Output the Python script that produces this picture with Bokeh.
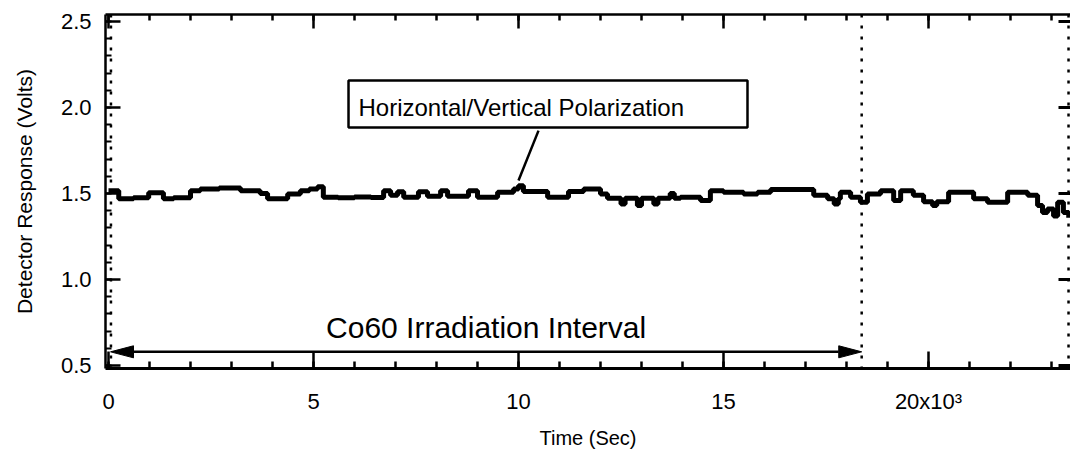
from bokeh.plotting import figure
from bokeh.models import Range1d, LinearAxis, FixedTicker, Span, Label, BoxAnnotation
from bokeh.embed import file_html
from bokeh.resources import INLINE

# ---------------- data ----------------
time_s = [
    0, 250, 610, 980, 1340, 1590, 2000, 2240, 2700, 3220,
    3700, 3880, 4370, 4680, 4900, 5100, 5240, 5600, 6000, 6400,
    6710, 6880, 7050, 7200, 7560, 7780, 8100, 8270, 8780, 9000,
    9490, 9880, 10000, 10120, 10710, 11220, 11590, 12000, 12170, 12500,
    12600, 12900, 13000, 13300, 13400, 13700, 13800, 13950, 14440, 14680,
    15000, 15490, 15830, 16150, 17200, 17540, 17700, 17800, 17850, 18100,
    18340, 18510, 18830, 19150, 19320, 19630, 19880, 20100, 20200, 20490,
    21100, 21440, 21930, 22420, 22660, 22780, 22900, 23050, 23150, 23290,
    23420,
]
volts = [
    1.517, 1.470, 1.475, 1.505, 1.470, 1.475, 1.517, 1.527, 1.532, 1.517,
    1.500, 1.470, 1.498, 1.517, 1.527, 1.540, 1.478, 1.475, 1.480, 1.477,
    1.517, 1.490, 1.510, 1.478, 1.510, 1.485, 1.517, 1.485, 1.517, 1.478,
    1.508, 1.527, 1.545, 1.512, 1.478, 1.512, 1.527, 1.498, 1.473, 1.440,
    1.473, 1.430, 1.473, 1.440, 1.473, 1.500, 1.473, 1.478, 1.460, 1.517,
    1.508, 1.498, 1.508, 1.523, 1.490, 1.470, 1.440, 1.470, 1.508, 1.478,
    1.450, 1.498, 1.517, 1.460, 1.517, 1.490, 1.453, 1.430, 1.453, 1.508,
    1.470, 1.450, 1.508, 1.490, 1.430, 1.390, 1.410, 1.370, 1.450, 1.390,
    1.360,
]

x_major_ticks = [0, 5000, 10000, 15000, 20000]
x_major_labels = ["0", "5", "10", "15", "20x10\u00b3"]
x_minor_ticks = [0, 1000, 2000, 3000, 4000, 5000, 6000, 7000, 8000, 9000, 10000,
                 11000, 12000, 13000, 14000, 15000, 16000, 17000, 18000, 19000,
                 20000, 21000, 22000, 23000]
y_major_ticks = [0.5, 1.0, 1.5, 2.0, 2.5]
y_major_labels = ["0.5", "1.0", "1.5", "2.0", "2.5"]
y_minor_ticks = [0.5, 0.6, 0.7, 0.8, 0.9, 1.0, 1.1, 1.2, 1.3, 1.4, 1.5, 1.6, 1.7,
                 1.8, 1.9, 2.0, 2.1, 2.2, 2.3, 2.4, 2.5]

marker_times = [60, 18370, 23415]
irradiation_start = 50
irradiation_end = 18370
arrow_level = 0.58
arrow_text = "Co60 Irradiation Interval"
legend_text = "Horizontal/Vertical Polarization"

FONT = "Liberation Sans"

# ---------------- figure ----------------
p = figure(width=1070, height=468,
           x_range=Range1d(-73, 23463), y_range=Range1d(0.483, 2.541),
           output_backend="svg", toolbar_location=None,
           x_axis_location=None, y_axis_location=None,
           min_border_left=105, min_border_right=0,
           min_border_top=14, min_border_bottom=100)
p.outline_line_color = None
p.xgrid.grid_line_color = None
p.ygrid.grid_line_color = None
p.background_fill_color = "white"
p.border_fill_color = "white"

xticker = FixedTicker(ticks=x_major_ticks, minor_ticks=x_minor_ticks)
yticker = FixedTicker(ticks=y_major_ticks, minor_ticks=y_minor_ticks)

xb = LinearAxis(ticker=xticker,
                major_label_overrides=dict(zip(x_major_ticks, x_major_labels)),
                axis_label="Time (Sec)")
xb.major_tick_in = 17
xb.major_tick_out = 0
xb.minor_tick_in = 7
xb.minor_tick_out = 0
xb.axis_line_width = 3
xb.major_tick_line_width = 2.5
xb.minor_tick_line_width = 2.5
xb.major_label_text_font = FONT
xb.major_label_text_font_size = "22px"
xb.major_label_text_color = "black"
xb.major_label_standoff = 20
xb.axis_label_text_font = FONT
xb.axis_label_text_font_size = "20px"
xb.axis_label_text_font_style = "normal"
xb.axis_label_text_color = "black"
xb.axis_label_standoff = 10
p.add_layout(xb, "below")

xt = LinearAxis(ticker=xticker,
                major_label_overrides={t: "" for t in x_major_ticks})
xt.major_tick_in = 14
xt.major_tick_out = 0
xt.minor_tick_in = 6
xt.minor_tick_out = 0
xt.axis_line_width = 2.5
xt.major_tick_line_width = 2.5
xt.minor_tick_line_width = 2.5
xt.major_label_standoff = 0
p.add_layout(xt, "above")

yl = LinearAxis(ticker=yticker,
                major_label_overrides=dict(zip(y_major_ticks, y_major_labels)),
                axis_label="Detector Response (Volts)")
yl.major_tick_in = 15
yl.major_tick_out = 0
yl.minor_tick_in = 6
yl.minor_tick_out = 0
yl.axis_line_width = 2.5
yl.major_tick_line_width = 2.5
yl.minor_tick_line_width = 2
yl.major_label_text_font = FONT
yl.major_label_text_font_size = "22px"
yl.major_label_text_color = "black"
yl.major_label_standoff = 14
yl.axis_label_text_font = FONT
yl.axis_label_text_font_size = "21px"
yl.axis_label_text_font_style = "normal"
yl.axis_label_text_color = "black"
yl.axis_label_standoff = 22
p.add_layout(yl, "left")

yr = LinearAxis(ticker=FixedTicker(ticks=y_major_ticks, minor_ticks=[]),
                major_label_overrides={t: "" for t in y_major_ticks})
yr.axis_line_color = None
yr.major_tick_in = 12
yr.major_tick_out = 0
yr.major_tick_line_width = 3
yr.major_label_standoff = 0
p.add_layout(yr, "right")

# dotted marker lines
for t in marker_times:
    p.add_layout(Span(location=t, dimension="height", line_color="black",
                      line_width=2.5, line_dash="3 8"))

# data trace
p.step(time_s, volts, mode="after", line_width=5, line_color="black")

# double-headed arrow for irradiation interval
head_len = 560
head_half = 0.035
p.segment(x0=[irradiation_start + head_len], x1=[irradiation_end - head_len],
          y0=[arrow_level], y1=[arrow_level], line_width=2.5, line_color="black")
p.patches(
    xs=[[irradiation_start, irradiation_start + head_len, irradiation_start + head_len],
        [irradiation_end, irradiation_end - head_len, irradiation_end - head_len]],
    ys=[[arrow_level, arrow_level + head_half, arrow_level - head_half],
        [arrow_level, arrow_level + head_half, arrow_level - head_half]],
    fill_color="black", line_color="black", line_width=1)

p.add_layout(Label(x=(irradiation_start + irradiation_end) / 2, y=0.724, text=arrow_text,
                   text_align="center", text_baseline="middle",
                   text_font=FONT, text_font_size="30px", text_color="black"))

# annotation box with leader line
p.add_layout(BoxAnnotation(left=5854, right=15585, bottom=1.884, top=2.157,
                           fill_color="white", fill_alpha=1.0,
                           line_color="black", line_width=2.5, line_alpha=1.0))
p.add_layout(Label(x=6098, y=2.0, text=legend_text, text_align="left",
                   text_baseline="middle", text_font=FONT,
                   text_font_size="24px", text_color="black"))
p.segment(x0=[10488], y0=[1.866], x1=[10000], y1=[1.576],
          line_width=2.5, line_color="black")

open("out.html", "w").write(file_html(p, INLINE))
